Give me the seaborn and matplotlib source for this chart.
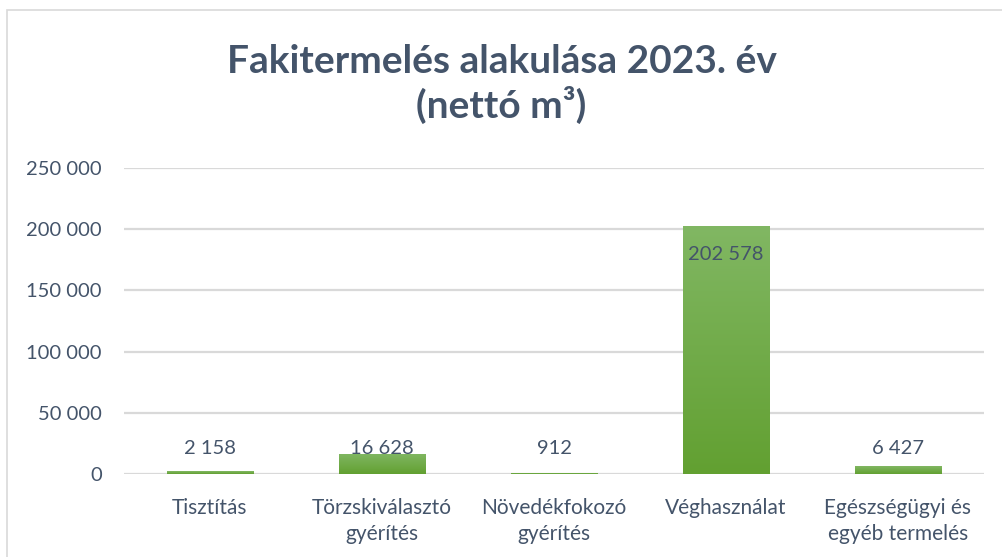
import matplotlib
matplotlib.use("Agg")
import matplotlib.pyplot as plt
import matplotlib.patches as mpatches
from matplotlib.colors import LinearSegmentedColormap
import numpy as np
import pandas as pd
import seaborn as sns

categories = ["Tisztítás", "Törzskiválasztó\ngyérítés", "Növedékfokozó\ngyérítés",
              "Véghasználat", "Egészségügyi és\negyéb termelés"]
values = [2158, 16628, 912, 202578, 6427]
yticks = [0, 50000, 100000, 150000, 200000, 250000]

df = pd.DataFrame({"kategoria": categories, "ertek": values})

text_col = "#44546A"
grid_col = "#D9D9D9"
bar_col = "#6BA83D"
grad = LinearSegmentedColormap.from_list("g", ["#62A031", "#81B763"])

sns.set_style("white")
plt.rcParams["font.family"] = ["Lato", "DejaVu Sans"]

fig = plt.figure(figsize=(10.03, 5.57), dpi=100)
ax = fig.add_axes([124 / 1003, 1 - 474 / 557, 860 / 1003, 306 / 557])

sns.barplot(data=df, x="kategoria", y="ertek", color=bar_col, width=0.505,
            saturation=1, ax=ax, zorder=3, edgecolor=bar_col, linewidth=0.6)

ax.set_ylim(0, 250000)
ax.set_xlim(-0.5, len(categories) - 0.5)

# vertical gradient inside every bar
for p in ax.patches:
    x0, y0 = p.get_x(), p.get_y()
    w, h = p.get_width(), p.get_height()
    img = ax.imshow(np.linspace(0, 1, 256).reshape(-1, 1), cmap=grad,
                    extent=[x0, x0 + w, y0, y0 + h], origin="lower",
                    aspect="auto", zorder=3.5)
    img.set_clip_path(p)
ax.set_ylim(0, 250000)
ax.set_xlim(-0.5, len(categories) - 0.5)

ax.set_yticks(yticks)
ax.set_yticklabels([f"{v:,}".replace(",", " ") for v in yticks])
ax.yaxis.grid(True, color=grid_col, linewidth=1.6, zorder=0)
ax.set_axisbelow(True)
for s in ax.spines.values():
    s.set_visible(False)
ax.tick_params(axis="y", length=0, pad=16, labelsize=14.5, labelcolor=text_col)
ax.tick_params(axis="x", length=0, pad=17, labelsize=15, labelcolor=text_col)
ax.set_xlabel("")
ax.set_ylabel("")
for lbl in ax.get_xticklabels():
    lbl.set_linespacing(1.4)

for i, v in enumerate(values):
    lab = f"{v:,}".replace(",", " ")
    if v > 100000:
        ax.text(i, v - 23000, lab, ha="center", va="center", fontsize=14.5,
                color=text_col, zorder=5)
    else:
        ax.text(i, 20500, lab, ha="center", va="center", fontsize=14.5,
                color=text_col, zorder=5)

fig.text(0.5, 1 - 84 / 557, "Fakitermelés alakulása 2023. év\n(nettó m³)",
         ha="center", va="center", fontsize=28, fontweight="bold",
         color=text_col, linespacing=1.2)

fig.patches.append(mpatches.Rectangle((7 / 1003, -0.05), 1.1, (547 / 557) + 0.05,
                                      transform=fig.transFigure, fill=False,
                                      edgecolor=grid_col, linewidth=1.2))

fig.savefig("out.png", dpi=100, facecolor="white")
